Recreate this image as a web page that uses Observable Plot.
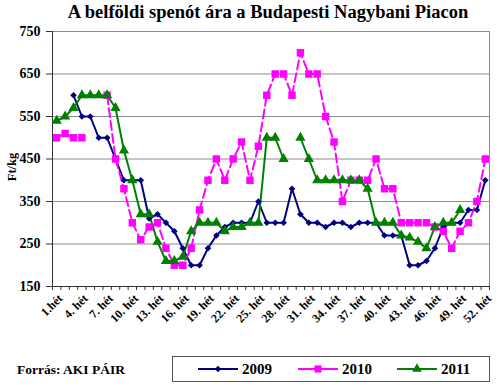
<!DOCTYPE html>
<html>
<head>
<meta charset="utf-8">
<script src="https://cdn.jsdelivr.net/npm/d3@7"></script>
<script src="https://cdn.jsdelivr.net/npm/@observablehq/plot@0.6"></script>
<style>
  body { margin: 0; background: #fff; }
  #wrap { position: relative; width: 500px; height: 387px; overflow: hidden; background: #fff;
          font-family: "Liberation Serif", "Times New Roman", serif; font-weight: bold; color: #000; }
  #title { position: absolute; left: 0; top: 2px; width: 536px; text-align: center; font-size: 18.5px; }
  #chart { position: absolute; left: 0; top: 20px; }
  #ylabel { position: absolute; left: 12px; top: 167px; font-size: 12.5px; transform: translate(-50%, -50%) rotate(-90deg); white-space: nowrap; }
  #caption { position: absolute; left: 17px; top: 362px; font-size: 13.5px; }
  #legend { position: absolute; left: 172px; top: 356px; width: 316px; height: 24px; border: 1px solid #555; background: #fff; }
  .item { position: absolute; top: 0; height: 24px; display: flex; align-items: center; font-size: 15px; }
  .item svg { margin-right: 4px; }
</style>
</head>
<body>
<div id="wrap">
  <div id="title">A belföldi spenót ára a Budapesti Nagybani Piacon</div>
  <div id="chart"></div>
  <div id="ylabel">Ft/kg</div>
  <div id="caption">Forrás: AKI PÁIR</div>
  <div id="legend"></div>
</div>
<script>
// ---- data ----
const weeks = [1,2,3,4,5,6,7,8,9,10,11,12,13,14,15,16,17,18,19,20,21,22,23,24,25,26,
               27,28,29,30,31,32,33,34,35,36,37,38,39,40,41,42,43,44,45,46,47,48,49,50,51,52];
const series = ["2009", "2010", "2011"];
const v2009 = [null,null,600,550,550,500,500,450,400,400,400,310,320,300,280,240,200,200,240,270,290,300,300,300,350,300,
               300,300,380,320,300,300,290,300,300,290,300,300,300,270,270,270,200,200,210,240,290,300,300,330,330,400];
const v2010 = [500,510,500,500,null,null,600,450,380,300,260,290,300,240,200,200,240,330,400,450,400,450,490,400,480,600,
               650,650,600,700,650,650,550,490,350,400,400,400,450,380,380,300,300,300,300,290,280,240,280,300,350,450];
const v2011 = [540,550,570,600,600,600,600,570,470,400,320,320,255,210,210,220,280,300,300,300,280,290,290,300,300,500,
               500,450,null,500,450,400,400,400,400,400,400,380,300,300,300,270,265,255,240,290,300,300,330,null,null,null];
const yTicks = [150, 250, 350, 450, 550, 650, 750];
const labelWeeks = [1,4,7,10,13,16,19,22,25,28,31,34,37,40,43,46,49,52];
const weekLabels = ["1.hét","4. hét","7. hét","10. hét","13. hét","16. hét","19. hét","22. hét","25. hét",
                    "28. hét","31. hét","34. hét","37. hét","40. hét","43. hét","46. hét","49. hét","52. hét"];
const colors = ["#000080", "#FF00FF", "#008000"];

// ---- derived tables ----
const toRows = (vals, s) => weeks.map((w, i) => ({week: w, value: vals[i], series: s}));
const r2009 = toRows(v2009, "2009");
const r2010 = toRows(v2010, "2010");
const r2011 = toRows(v2011, "2011");
const defined = r => r.filter(d => d.value != null);
const bounds = d3.range(weeks.length + 1).map(i => i + 0.5);
const labels = labelWeeks.map((w, i) => ({week: w, label: weekLabels[i]}));

const chart = Plot.plot({
  width: 500,
  height: 315,
  marginLeft: 52,
  marginRight: 11,
  marginTop: 11,
  marginBottom: 49,
  style: {fontFamily: '"Liberation Serif", "Times New Roman", serif', fontWeight: "bold", fontSize: "14px", color: "#000", background: "transparent", overflow: "visible"},
  x: {domain: [0.5, 52.5]},
  y: {domain: [150, 750]},
  color: {domain: series, range: colors},
  marks: [
    Plot.ruleY(yTicks.slice(1), {stroke: "#8c8c8c", strokeWidth: 1}),
    Plot.ruleX([52.5], {y1: 150, y2: 750, stroke: "#8c8c8c"}),
    Plot.axisY(yTicks, {tickSize: 6, tickPadding: 6, label: null, tickFormat: d => String(d), stroke: "#333"}),
    Plot.axisX(bounds, {tickSize: 4, tickFormat: () => "", label: null, stroke: "#333"}),
    Plot.ruleX([0.5], {y1: 150, y2: 750, stroke: "#333"}),
    Plot.ruleY([150], {stroke: "#333"}),
    Plot.text(labels, {x: "week", y: () => 150, text: "label", rotate: -45, textAnchor: "end", dx: 4, dy: 10, fontSize: 12, fontWeight: "bold"}),
    Plot.line(r2009, {x: "week", y: "value", stroke: colors[0], strokeWidth: 2}),
    Plot.line(r2010, {x: "week", y: "value", stroke: colors[1], strokeWidth: 2, strokeDasharray: "9,4"}),
    Plot.line(r2011, {x: "week", y: "value", stroke: colors[2], strokeWidth: 2}),
    Plot.dot(defined(r2009), {x: "week", y: "value", symbol: "diamond2", r: 3, fill: colors[0], stroke: "none"}),
    Plot.dot(defined(r2010), {x: "week", y: "value", symbol: "square", r: 4.2, fill: colors[1], stroke: "none"}),
    Plot.dot(defined(r2011), {x: "week", y: "value", symbol: "triangle", r: 3.8, fill: colors[2], stroke: "none"})
  ]
});
document.getElementById("chart").appendChild(chart);

// ---- legend ----
const legend = document.getElementById("legend");
const symbols = ["diamond", "square", "triangle"];
const lefts = [25, 125, 224];
series.forEach((s, i) => {
  const item = document.createElement("div");
  item.className = "item";
  item.style.left = lefts[i] + "px";
  const svg = d3.create("svg").attr("width", 40).attr("height", 12);
  svg.append("line").attr("x1", 0).attr("x2", 40).attr("y1", 6).attr("y2", 6)
     .attr("stroke", colors[i]).attr("stroke-width", 2);
  let path;
  if (symbols[i] === "diamond") path = d3.symbol(d3.symbolDiamond2, 26)();
  else if (symbols[i] === "square") path = d3.symbol(d3.symbolSquare, 50)();
  else path = d3.symbol(d3.symbolTriangle, 42)();
  svg.append("path").attr("d", path).attr("transform", "translate(20,6)").attr("fill", colors[i]);
  item.appendChild(svg.node());
  const t = document.createElement("span");
  t.textContent = s;
  item.appendChild(t);
  legend.appendChild(item);
});
</script>
</body>
</html>
